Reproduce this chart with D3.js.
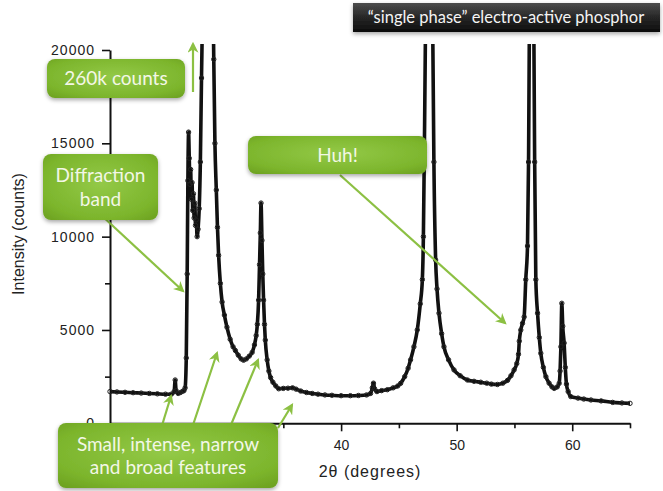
<!DOCTYPE html>
<html>
<head>
<meta charset="utf-8">
<script src="https://cdn.jsdelivr.net/npm/d3@7"></script>
<style>
  html, body { margin: 0; padding: 0; background: #fff; }
  svg { display: block; }
</style>
</head>
<body>
<svg id="chart" width="663" height="491"></svg>
<script>
// Powder XRD pattern: 2θ (degrees) vs intensity (counts)
const twoTheta = [
  20.00, 20.60, 21.30, 22.00, 22.70, 23.40, 24.10, 24.80, 25.30, 25.55, 25.64, 25.72, 25.90, 26.10, 26.30,
  26.40, 26.50, 26.60, 26.68, 26.74, 26.80, 26.86, 26.92, 26.98, 27.04, 27.10, 27.16, 27.22, 27.28, 27.34,
  27.40, 27.46, 27.54, 27.62, 27.72, 27.82, 27.92, 28.02, 28.15, 28.30, 28.45, 28.60, 28.75, 28.90, 28.98,
  29.08, 29.20, 29.30, 29.40, 29.55, 29.70, 29.90, 30.12, 30.40, 30.65, 30.85, 31.10, 31.35, 31.56, 31.80,
  32.05, 32.30, 32.50, 32.65, 32.75, 32.86, 32.94, 33.01, 33.07, 33.15, 33.22, 33.29, 33.37, 33.44, 33.60,
  33.75, 33.90, 34.10, 34.35, 34.60, 35.00, 35.40, 35.80, 36.10, 36.50, 37.00, 37.50, 38.00, 38.60, 39.20,
  40.00, 40.80, 41.50, 42.20, 42.55, 42.70, 42.80, 42.90, 43.10, 43.50, 44.00, 44.50, 44.90, 45.15, 45.50,
  45.80, 46.01, 46.30, 46.59, 46.85, 47.03, 47.12, 47.20, 47.30, 47.45, 47.60, 47.80, 47.93, 48.03, 48.18,
  48.30, 48.47, 48.70, 48.90, 49.30, 49.77, 50.30, 50.93, 51.50, 52.08, 52.60, 53.00, 53.53, 54.00, 54.40,
  54.70, 54.97, 55.20, 55.35, 55.42, 55.55, 55.70, 55.84, 55.98, 56.13, 56.22, 56.30, 56.45, 56.55, 56.68,
  56.75, 56.85, 57.00, 57.15, 57.28, 57.50, 57.72, 58.00, 58.25, 58.44, 58.70, 58.87, 58.95, 59.02, 59.10,
  59.18, 59.30, 59.40, 59.50, 59.65, 59.88, 60.50, 61.00, 61.62, 62.50, 63.50, 64.30, 65.00
];
const counts = [
  1700, 1680, 1660, 1640, 1620, 1600, 1580, 1560, 1560, 1700, 2320, 1750, 1600, 1650, 1720,
  1750, 1900, 3500, 8000, 13000, 15600, 14200, 12800, 13600, 12000, 12900, 11400, 12300, 11000, 11800,
  10600, 10900, 10000, 10400, 11500, 14000, 18500, 24000, 60000, 180000, 260000, 150000, 60000, 25000, 19500,
  15000, 12500, 10500, 9000, 7500, 6500, 5800, 5150, 4500, 4100, 3900, 3650, 3450, 3380, 3450,
  3600, 3800, 4200, 4700, 5300, 6600, 8500, 10200, 11800, 9800, 8000, 6600, 5300, 4460, 3400,
  2800, 2450, 2200, 2000, 1850, 1870, 1880, 1900, 1830, 1730, 1650, 1600, 1560, 1520, 1500,
  1480, 1480, 1490, 1520, 1600, 1900, 2150, 1850, 1700, 1750, 1800, 1900, 2000, 2140, 2500,
  2950, 3400, 4100, 5000, 6400, 7700, 10000, 14500, 21000, 40000, 50000, 35000, 21000, 14000, 8750,
  7200, 5900, 4800, 4100, 3400, 2860, 2550, 2320, 2250, 2200, 2150, 2100, 2080, 2150, 2300,
  2550, 2860, 3200, 3700, 4400, 5000, 5360, 5700, 7700, 9500, 14000, 22000, 60000, 50000, 21000,
  14000, 7700, 5900, 4600, 3750, 3000, 2500, 2150, 1950, 1870, 1950, 2140, 2800, 4100, 6430,
  5200, 4300, 3000, 2100, 1700, 1430, 1350, 1300, 1250, 1200, 1120, 1090, 1070
];

const xTicks = [20, 30, 40, 50, 60];
const xTickLabels = ["", "", "40", "50", "60"];   // 20 and 30 sit under the features callout
const xMinorTicks = [25, 35, 45, 55, 65];
const yTicks = [0, 5000, 10000, 15000, 20000];
const yMinorTicks = [2500, 7500, 12500, 17500];

const titleText = "\u201Csingle phase\u201D electro-active phosphor";
const xTitle = "2\u03B8 (degrees)";
const yTitle = "Intensity (counts)";
const calloutPeak = ["260k counts"];
const calloutBand = ["Diffraction", "band"];
const calloutHuh = ["Huh!"];
const calloutFeatures = ["Small, intense, narrow", "and broad features"];

const svg = d3.select("#chart");
const x = d3.scaleLinear().domain([20, 65]).range([110, 630]);
const y = d3.scaleLinear().domain([0, 20000]).range([423.3, 50]);

const defs = svg.append("defs");

// green callout fill
const gGrad = defs.append("radialGradient").attr("id", "greenFill")
  .attr("cx", "50%").attr("cy", "45%").attr("r", "75%");
gGrad.append("stop").attr("offset", "0%").attr("stop-color", "#93c947");
gGrad.append("stop").attr("offset", "70%").attr("stop-color", "#7cb52c");
gGrad.append("stop").attr("offset", "100%").attr("stop-color", "#6a9e1f");

// dark title bar
const dGrad = defs.append("linearGradient").attr("id", "darkFill")
  .attr("x1", "0").attr("y1", "0").attr("x2", "0").attr("y2", "1");
dGrad.append("stop").attr("offset", "0%").attr("stop-color", "#4d4d4d");
dGrad.append("stop").attr("offset", "50%").attr("stop-color", "#262626");
dGrad.append("stop").attr("offset", "100%").attr("stop-color", "#0d0d0d");

const shadow = defs.append("filter").attr("id", "shadow")
  .attr("x", "-10%").attr("y", "-20%").attr("width", "130%").attr("height", "160%");
shadow.append("feDropShadow").attr("dx", 0).attr("dy", 2).attr("stdDeviation", 2)
  .attr("flood-color", "#000").attr("flood-opacity", 0.35);

defs.append("marker").attr("id", "arrowHead")
  .attr("viewBox", "0 0 10 10").attr("refX", 8).attr("refY", 5)
  .attr("markerWidth", 5).attr("markerHeight", 5).attr("orient", "auto")
  .append("path").attr("d", "M0,0 L10,5 L0,10 L3,5 z").attr("fill", "#8cc043");

defs.append("clipPath").attr("id", "plotClip")
  .append("rect").attr("x", 100).attr("y", 44).attr("width", 540).attr("height", 390);

// axes
const axisFont = "'Liberation Sans', Arial, sans-serif";

const yAxis = svg.append("g").attr("transform", "translate(110,0)")
  .call(d3.axisLeft(y).tickValues(yTicks).tickSize(8).tickSizeOuter(0).tickPadding(7).tickFormat(d3.format("d")));
svg.append("g").attr("transform", "translate(110,0)")
  .call(d3.axisLeft(y).tickValues(yMinorTicks).tickSize(5).tickSizeOuter(0).tickFormat(""))
  .select(".domain").remove();

const xAxis = svg.append("g").attr("transform", "translate(0,423.3)")
  .call(d3.axisBottom(x).tickValues(xTicks).tickSize(8).tickSizeOuter(0).tickPadding(9)
    .tickFormat((d, i) => xTickLabels[i]));
svg.append("g").attr("transform", "translate(0,423.3)")
  .call(d3.axisBottom(x).tickValues(xMinorTicks).tickSize(5).tickSizeOuter(0).tickFormat(""))
  .select(".domain").remove();

svg.selectAll(".domain").attr("stroke", "#111").attr("stroke-width", 2);
svg.selectAll(".tick line").attr("stroke", "#111").attr("stroke-width", 1.6);
yAxis.selectAll("text").attr("font-family", axisFont).attr("font-size", 14)
  .attr("letter-spacing", 1).attr("fill", "#222");
xAxis.selectAll("text").attr("font-family", axisFont).attr("font-size", 14).attr("fill", "#222");

svg.append("text").attr("x", 370).attr("y", 477).attr("text-anchor", "middle")
  .attr("font-family", axisFont).attr("font-size", 16).attr("letter-spacing", 1)
  .attr("fill", "#222").text(xTitle);
svg.append("text").attr("transform", "translate(24,234) rotate(-90)").attr("text-anchor", "middle")
  .attr("font-family", axisFont).attr("font-size", 16).attr("fill", "#222").text(yTitle);

// diffraction pattern
const pts = twoTheta.map((t, i) => [t, counts[i]]);
const plot = svg.append("g").attr("clip-path", "url(#plotClip)");
plot.append("path").datum(pts)
  .attr("fill", "none").attr("stroke", "#111").attr("stroke-width", 3.6)
  .attr("stroke-linejoin", "round")
  .attr("d", d3.line().x(d => x(d[0])).y(d => y(d[1])).curve(d3.curveMonotoneX));
plot.selectAll("circle").data(pts).join("circle")
  .attr("cx", d => x(d[0])).attr("cy", d => y(d[1])).attr("r", 2.2)
  .attr("fill", "none").attr("stroke", "#222").attr("stroke-width", 1);

// title bar
const title = svg.append("g");
title.append("rect").attr("x", 353).attr("y", 3).attr("width", 307).attr("height", 29)
  .attr("fill", "url(#darkFill)").attr("filter", "url(#shadow)");
title.append("text").attr("x", 506).attr("y", 23).attr("text-anchor", "middle")
  .attr("font-family", "Lato, 'Open Sans', sans-serif").attr("font-size", 16.5)
  .attr("fill", "#f4f4f4").text(titleText);

// callout arrows
const calloutFont = "Lato, 'Open Sans', sans-serif";
const arrowColor = "#8cc043";
function arrow(x1, y1, x2, y2) {
  svg.append("line").attr("x1", x1).attr("y1", y1).attr("x2", x2).attr("y2", y2)
    .attr("stroke", arrowColor).attr("stroke-width", 2.2)
    .attr("marker-end", "url(#arrowHead)");
}
arrow(193, 92, 193, 44);
arrow(100, 214, 183, 291);
arrow(340, 175, 505, 323);
arrow(160, 432, 171, 396);
arrow(188, 440, 217, 353);
arrow(228, 432, 258, 360);
arrow(278, 428, 292, 405);

function callout(bx, by, bw, bh, lines, lineGap, size) {
  const g = svg.append("g");
  g.append("rect").attr("x", bx).attr("y", by).attr("width", bw).attr("height", bh)
    .attr("rx", 8).attr("ry", 8).attr("fill", "url(#greenFill)")
    .attr("filter", "url(#shadow)");
  const cy0 = by + bh / 2 - (lines.length - 1) * lineGap / 2;
  lines.forEach((t, i) => {
    g.append("text").attr("x", bx + bw / 2).attr("y", cy0 + i * lineGap)
      .attr("dy", "0.35em").attr("text-anchor", "middle")
      .attr("font-family", calloutFont).attr("font-size", size)
      .attr("fill", "#f3f7e6").text(t);
  });
}
callout(47, 59, 138, 39, calloutPeak, 0, 19);
callout(43, 154, 115, 66, calloutBand, 24, 19);
callout(248, 136, 179, 38, calloutHuh, 0, 19);
callout(58, 423, 220, 65, calloutFeatures, 23, 19);
</script>
</body>
</html>
